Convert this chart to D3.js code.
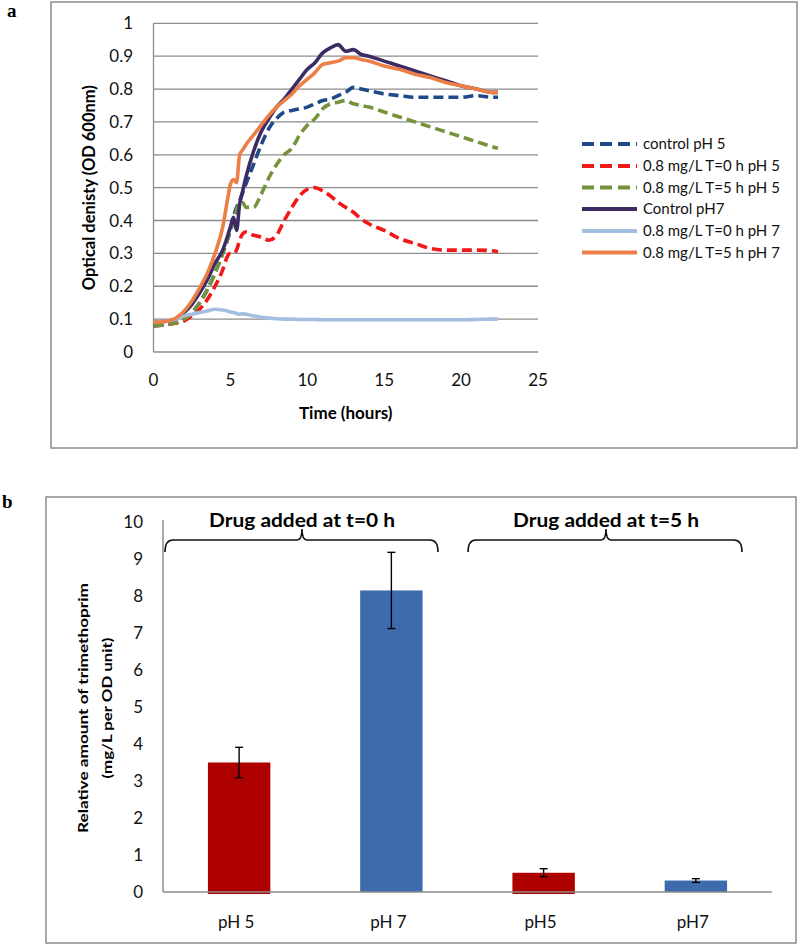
<!DOCTYPE html>
<html><head><meta charset="utf-8">
<script src="https://cdn.jsdelivr.net/npm/d3@7"></script>
<style>body{margin:0;background:#fff} text{font-family:Lato,"Open Sans",sans-serif}</style>
</head><body><svg id="c" width="800" height="946"></svg>
<script>
// ---------- Panel a data ----------
const times = [0,1,1.5,2,2.5,3,3.5,4,4.5,4.8,5,5.2,5.4,5.6,5.8,6,6.5,7,7.5,8,8.5,9,9.5,10,10.5,11,11.5,12,12.5,13,13.5,14,15,16,17,18,19,20,21,22,22.4];
const controlPH5 = [0.08,0.085,0.09,0.10,0.12,0.15,0.19,0.24,0.30,0.34,0.37,0.41,0.44,0.46,0.485,0.51,0.57,0.63,0.68,0.71,0.73,0.735,0.74,0.745,0.755,0.765,0.77,0.78,0.79,0.805,0.80,0.795,0.785,0.78,0.775,0.775,0.775,0.775,0.78,0.775,0.775];
const t0PH5 = [0.08,0.085,0.088,0.095,0.11,0.13,0.16,0.20,0.25,0.29,0.30,0.30,0.31,0.34,0.36,0.365,0.355,0.35,0.34,0.355,0.40,0.44,0.475,0.495,0.50,0.49,0.475,0.455,0.44,0.425,0.405,0.39,0.37,0.345,0.33,0.315,0.31,0.31,0.31,0.308,0.305];
const t5PH5 = [0.08,0.085,0.09,0.10,0.12,0.15,0.19,0.24,0.30,0.34,0.37,0.40,0.43,0.455,0.455,0.44,0.44,0.48,0.53,0.57,0.60,0.62,0.66,0.69,0.71,0.74,0.755,0.76,0.765,0.755,0.75,0.745,0.73,0.715,0.70,0.685,0.67,0.655,0.64,0.625,0.62];
const controlPH7 = [0.09,0.095,0.10,0.12,0.145,0.18,0.22,0.27,0.31,0.35,0.38,0.41,0.37,0.45,0.49,0.53,0.61,0.67,0.71,0.745,0.77,0.80,0.83,0.86,0.88,0.91,0.925,0.935,0.915,0.92,0.905,0.90,0.885,0.87,0.855,0.84,0.825,0.81,0.80,0.79,0.79];
const t0PH7 = [0.09,0.095,0.10,0.11,0.115,0.12,0.125,0.13,0.128,0.125,0.122,0.12,0.117,0.115,0.116,0.115,0.11,0.106,0.103,0.101,0.10,0.10,0.099,0.099,0.099,0.098,0.098,0.098,0.098,0.098,0.098,0.098,0.098,0.098,0.098,0.098,0.098,0.098,0.099,0.10,0.10];
const t5PH7 = [0.09,0.095,0.105,0.125,0.155,0.195,0.24,0.30,0.38,0.46,0.51,0.525,0.515,0.60,0.615,0.63,0.66,0.69,0.72,0.745,0.765,0.785,0.81,0.83,0.85,0.875,0.88,0.885,0.895,0.895,0.89,0.885,0.87,0.86,0.845,0.835,0.82,0.81,0.80,0.79,0.79];
const seriesNames = ["control pH 5","0.8 mg/L T=0 h pH 5","0.8 mg/L T=5 h pH 5","Control pH7","0.8 mg/L T=0 h pH 7","0.8 mg/L T=5 h pH 7"];
const seriesValues = [controlPH5,t0PH5,t5PH5,controlPH7,t0PH7,t5PH7];
const seriesColors = ["#1F4A8A","#F01818","#76933C","#3D2B63","#A4BEE2","#EC7F48"];
const seriesDashed = [true,true,true,false,false,false];
const yTicksA = [0,0.1,0.2,0.3,0.4,0.5,0.6,0.7,0.8,0.9,1];
const xTicksA = [0,5,10,15,20,25];

// ---------- Panel b data ----------
const barCategories = ["pH 5","pH 7","pH5","pH7"];
const barValues = [3.5,8.15,0.52,0.31];
const barErrors = [0.41,1.03,0.11,0.05];
const barColors = ["#AF0000","#3E6BAE","#AF0000","#3E6BAE"];
const yTicksB = [0,1,2,3,4,5,6,7,8,9,10];
const groupLabels = ["Drug added at t=0 h","Drug added at t=5 h"];

const svg = d3.select("#c");
const gray = "#8c8c8c";

// ===== Panel a =====
svg.append("rect").attr("x",51).attr("y",2).attr("width",746).attr("height",446)
  .attr("fill","none").attr("stroke",gray).attr("stroke-width",1.5);
svg.append("text").attr("x",7).attr("y",17).text("a")
  .style("font-family","'Liberation Serif',serif").style("font-weight","bold").style("font-size","19px");

const xA = d3.scaleLinear().domain([0,25]).range([153.5,538]);
const yA = d3.scaleLinear().domain([0,1]).range([352,23.3]);
const gA = svg.append("g");
gA.selectAll("line.grid").data(yTicksA).join("line")
  .attr("x1",xA(0)).attr("x2",xA(25)).attr("y1",d=>yA(d)).attr("y2",d=>yA(d))
  .attr("stroke",gray).attr("stroke-width",1.3);
gA.append("line").attr("x1",xA(0)).attr("x2",xA(0)).attr("y1",yA(1)).attr("y2",yA(0))
  .attr("stroke",gray).attr("stroke-width",1.3);
gA.selectAll("text.yt").data(yTicksA).join("text")
  .attr("x",133).attr("y",d=>yA(d)+6).attr("text-anchor","end")
  .style("font-size","17px").attr("fill","#111").text(d=>d3.format("")(d));
gA.selectAll("text.xt").data(xTicksA).join("text")
  .attr("x",d=>xA(d)).attr("y",386).attr("text-anchor","middle")
  .style("font-size","17px").attr("fill","#111").text(d=>d);
gA.append("text").attr("x",(xA(0)+xA(25))/2).attr("y",419).attr("text-anchor","middle")
  .style("font-size","17px").style("font-weight","bold").text("Time (hours)");
gA.append("text").attr("transform",`translate(95,${(yA(0)+yA(1))/2}) rotate(-90)`)
  .attr("text-anchor","middle").style("font-size","16.5px").style("font-weight","bold")
  .text("Optical denisty (OD 600nm)");

const line = d3.line().x((d,i)=>xA(times[i])).y(d=>yA(d)).curve(d3.curveMonotoneX);
seriesValues.forEach((vals,k)=>{
  gA.append("path").attr("d",line(vals)).attr("fill","none")
    .attr("stroke",seriesColors[k]).attr("stroke-width",3.6)
    .attr("stroke-dasharray",seriesDashed[k]?"10,5":null)
    .attr("stroke-linejoin","round");
});
// legend
const legY = [144,166,187.5,209,231,252.5];
seriesNames.forEach((name,k)=>{
  gA.append("line").attr("x1",582).attr("x2",637).attr("y1",legY[k]).attr("y2",legY[k])
    .attr("stroke",seriesColors[k]).attr("stroke-width",4)
    .attr("stroke-dasharray",seriesDashed[k]?"12,6":null);
  gA.append("text").attr("x",643).attr("y",legY[k]+5).style("font-size","15px")
    .attr("fill","#111").text(name);
});

// ===== Panel b =====
svg.append("rect").attr("x",46).attr("y",497).attr("width",750).attr("height",446)
  .attr("fill","none").attr("stroke",gray).attr("stroke-width",1.5);
svg.append("text").attr("x",2).attr("y",508).text("b")
  .style("font-family","'Liberation Serif',serif").style("font-weight","bold").style("font-size","19px");

const xB = d3.scaleBand().domain(barCategories).range([163,772]).paddingInner(0.59).paddingOuter(0.295);
const yB = d3.scaleLinear().domain([0,10]).range([892,522]);
const gB = svg.append("g");
gB.selectAll("rect.bar").data(barValues).join("rect")
  .attr("x",(d,i)=>xB(barCategories[i])).attr("width",xB.bandwidth())
  .attr("y",d=>yB(d)).attr("height",(d,i)=>yB(0)-yB(d)+(i%2===0?2:0))
  .attr("fill",(d,i)=>barColors[i]);
gB.append("line").attr("x1",163).attr("x2",772).attr("y1",yB(0)).attr("y2",yB(0))
  .attr("stroke",gray).attr("stroke-width",1.5);
gB.append("line").attr("x1",163).attr("x2",163).attr("y1",520).attr("y2",yB(0))
  .attr("stroke",gray).attr("stroke-width",1.5);
// error bars
barValues.forEach((v,i)=>{
  const cx = xB(barCategories[i])+xB.bandwidth()/2;
  const e = barErrors[i];
  gB.append("line").attr("x1",cx).attr("x2",cx).attr("y1",yB(v+e)).attr("y2",yB(v-e)).attr("stroke","#000").attr("stroke-width",1.4);
  [v+e,v-e].forEach(w=>gB.append("line").attr("x1",cx-4).attr("x2",cx+4).attr("y1",yB(w)).attr("y2",yB(w)).attr("stroke","#000").attr("stroke-width",1.4));
});
gB.selectAll("text.yt").data(yTicksB).join("text")
  .attr("x",143).attr("y",d=>yB(d)+6).attr("text-anchor","end")
  .style("font-size","17px").attr("fill","#111").text(d=>d);
gB.selectAll("text.xt").data(barCategories).join("text")
  .attr("x",d=>xB(d)+xB.bandwidth()/2-3).attr("y",928).attr("text-anchor","middle")
  .style("font-size","17px").attr("fill","#111").text(d=>d);
// y title
gB.append("text").attr("transform","translate(88,708) rotate(-90)").attr("text-anchor","middle")
  .style("font-size","14px").style("font-weight","bold").attr("textLength",250).attr("lengthAdjust","spacingAndGlyphs")
  .text("Relative amount of trimethoprim");
gB.append("text").attr("transform","translate(112,708) rotate(-90)").attr("text-anchor","middle")
  .style("font-size","14px").style("font-weight","bold").attr("textLength",141).attr("lengthAdjust","spacingAndGlyphs")
  .text("(mg/L per OD unit)");
// brackets
const brackets = [[165,438,302],[468,742,606]];
brackets.forEach((b,k)=>{
  const [x0,x1,xm] = b;
  const p = `M${x0},552 Q${x0},540 ${x0+8},540 L${xm-5},540 Q${xm},540 ${xm},529 Q${xm},540 ${xm+5},540 L${x1-8},540 Q${x1},540 ${x1},552`;
  gB.append("path").attr("d",p).attr("fill","none").attr("stroke","#111").attr("stroke-width",1.6);
  gB.append("text").attr("x",xm).attr("y",527).attr("text-anchor","middle")
    .style("font-size","18px").style("font-weight","bold").attr("textLength",186).attr("lengthAdjust","spacingAndGlyphs")
    .text(groupLabels[k]);
});
</script></body></html>
